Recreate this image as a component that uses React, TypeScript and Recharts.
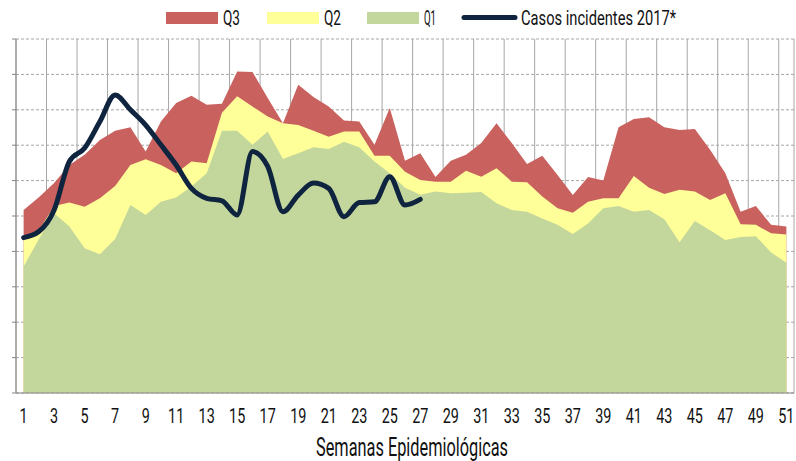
import React from 'react';
import { ComposedChart, Area, Line, XAxis, YAxis, CartesianGrid } from 'recharts';

const weeks: number[] = Array.from({ length: 51 }, (_, i) => i + 1);
const labelTicks: number[] = weeks.filter((w) => w % 2 === 1);
const boundaryTicks: number[] = Array.from({ length: 26 }, (_, i) => i * 2 + 0.5);
const yTicks: number[] = [0, 10, 20, 30, 40, 50, 60, 70, 80, 90, 100];

const q3: number[] = [
  51.7, 55.3, 59.3, 64.4, 67.3, 71.5, 74.1, 75.1, 68.2, 76.7,
  81.9, 84.0, 81.4, 81.7, 90.8, 90.7, 83.3, 76.2, 87.1, 83.6,
  80.9, 77.0, 76.7, 70.1, 80.5, 65.6, 67.7, 61.0, 65.6, 67.3,
  70.6, 76.2, 70.6, 64.7, 67.0, 61.6, 55.9, 61.0, 60.0, 75.1,
  77.4, 77.9, 75.1, 74.3, 74.6, 68.7, 62.1, 51.2, 52.8, 47.5, 47.0,
];
const q2: number[] = [
  43.7, 46.0, 52.8, 53.8, 52.6, 55.0, 58.5, 64.4, 66.0, 64.4,
  62.1, 65.4, 64.9, 79.2, 83.8, 80.9, 78.1, 76.2, 75.7, 74.1,
  72.4, 73.9, 73.9, 67.0, 67.0, 62.5, 60.2, 59.7, 59.7, 62.8,
  61.1, 63.5, 59.7, 59.5, 55.5, 52.2, 50.9, 54.0, 55.0, 55.0,
  61.3, 58.0, 56.2, 57.4, 56.9, 54.5, 56.4, 47.7, 47.5, 45.1, 44.8,
];
const q1: number[] = [
  35.7, 43.5, 50.8, 47.0, 40.9, 39.2, 43.5, 53.1, 50.3, 54.0,
  55.2, 58.3, 62.1, 74.1, 74.1, 70.1, 73.9, 66.1, 67.7, 69.4,
  68.9, 71.0, 69.4, 65.4, 62.1, 58.0, 56.0, 56.9, 56.4, 56.6,
  56.8, 53.6, 51.7, 51.2, 49.3, 47.5, 44.9, 47.9, 52.2, 52.8,
  51.2, 51.7, 49.1, 42.6, 48.6, 46.0, 43.2, 44.1, 44.3, 39.7, 36.8,
];
const casos2017: number[] = [
  43.9, 45.6, 51.7, 65.4, 69.2, 76.7, 84.2, 80.0, 75.7, 70.1,
  64.4, 57.8, 55.0, 54.3, 50.3, 68.2, 64.0, 51.2, 55.9, 59.3,
  57.8, 49.8, 53.8, 54.0, 61.1, 53.1, 54.7,
];

const COLORS = { q3: '#C9625F', q2: '#FFFF99', q1: '#C3D69B', line: '#0F243E' };
const FONT = "Roboto, 'Noto Sans', sans-serif";
const TEXT = '#111';

const data = weeks.map((w, i) => ({
  week: w,
  q3: q3[i],
  q2: q2[i],
  q1: q1[i],
  casos: i < casos2017.length ? casos2017[i] : null,
}));

const legendItems = [
  { label: 'Q3', color: COLORS.q3, kind: 'box', left: 166, textLen: 17 },
  { label: 'Q2', color: COLORS.q2, kind: 'box', left: 267, textLen: 17 },
  { label: 'Q1', color: COLORS.q1, kind: 'box', left: 367, textLen: 12 },
  { label: 'Casos incidentes 2017*', color: COLORS.line, kind: 'line', left: 462, textLen: 155 },
];

const LegendBar = () => (
  <svg width={796} height={36} style={{ position: 'absolute', left: 0, top: 0 }}>
    {legendItems.map((it) => {
      const textX = it.kind === 'box' ? it.left + 57 : it.left + 59;
      return (
        <g key={it.label}>
          {it.kind === 'box' ? (
            <rect x={it.left} y={12} width={52} height={12} fill={it.color} />
          ) : (
            <line x1={it.left + 2} y1={17.5} x2={it.left + 53} y2={17.5} stroke={it.color} strokeWidth={5} strokeLinecap="round" />
          )}
          <text
            x={textX}
            y={25}
            fontFamily={FONT}
            fontSize={19.5}
            fill={TEXT}
            textLength={it.textLen}
            lengthAdjust="spacingAndGlyphs"
          >
            {it.label}
          </text>
        </g>
      );
    })}
  </svg>
);

const WeekTick = (props: any) => {
  const { x, y, payload } = props;
  return (
    <g transform={`translate(${x},${y + 29.5}) scale(0.72,1)`}>
      <text x={0} y={0} textAnchor="middle" fontFamily={FONT} fontSize={20} fill={TEXT}>
        {payload.value}
      </text>
    </g>
  );
};

const AxisTitle = (props: any) => {
  const vb = props.viewBox || {};
  const cx = vb.x + vb.width / 2 + 7;
  const by = vb.y + vb.height - 5;
  return (
    <text
      x={cx - 96}
      y={by}
      fontFamily={FONT}
      fontSize={25}
      fill={TEXT}
      textLength={192}
      lengthAdjust="spacingAndGlyphs"
    >
      Semanas Epidemiológicas
    </text>
  );
};

export default function App() {
  return (
    <div style={{ position: 'absolute', left: 0, top: 0, width: 796, height: 461, background: '#fff', overflow: 'hidden' }}>
      <ComposedChart
        width={796}
        height={461}
        data={data}
        margin={{ top: 39, right: 2, bottom: 0, left: 0 }}
      >
        <CartesianGrid horizontal vertical={false} stroke="#A6A6A6" strokeDasharray="3 2" />
        <CartesianGrid horizontal={false} vertical xAxisId="b" stroke="#A6A6A6" />
        <XAxis
          xAxisId="b"
          type="number"
          dataKey="week"
          domain={[0.5, 51.5]}
          ticks={boundaryTicks}
          tickFormatter={() => ''}
          tickSize={5}
          height={0}
          axisLine={false}
          tickLine={{ stroke: '#868686' }}
          interval={0}
        />
        <XAxis
          xAxisId="a"
          type="number"
          dataKey="week"
          domain={[0.5, 51.5]}
          ticks={labelTicks}
          interval={0}
          height={68}
          tickSize={0}
          tickMargin={0}
          tickLine={false}
          axisLine={{ stroke: '#868686' }}
          tick={<WeekTick />}
          label={<AxisTitle />}
        />
        <YAxis
          domain={[0, 100]}
          ticks={yTicks}
          width={16}
          tickSize={4}
          tickFormatter={() => ''}
          axisLine={{ stroke: '#868686' }}
          tickLine={{ stroke: '#868686' }}
          interval={0}
        />
        <Area xAxisId="a" type="linear" dataKey="q3" name="Q3" fill={COLORS.q3} fillOpacity={1} stroke="none" isAnimationActive={false} />
        <Area xAxisId="a" type="linear" dataKey="q2" name="Q2" fill={COLORS.q2} fillOpacity={1} stroke="none" isAnimationActive={false} />
        <Area xAxisId="a" type="linear" dataKey="q1" name="Q1" fill={COLORS.q1} fillOpacity={1} stroke="none" isAnimationActive={false} />
        <Line
          xAxisId="a"
          type="monotone"
          dataKey="casos"
          name="Casos incidentes 2017*"
          stroke={COLORS.line}
          strokeWidth={5}
          dot={false}
          activeDot={false}
          strokeLinecap="round"
          strokeLinejoin="round"
          isAnimationActive={false}
        />
      </ComposedChart>
      <LegendBar />
    </div>
  );
}
